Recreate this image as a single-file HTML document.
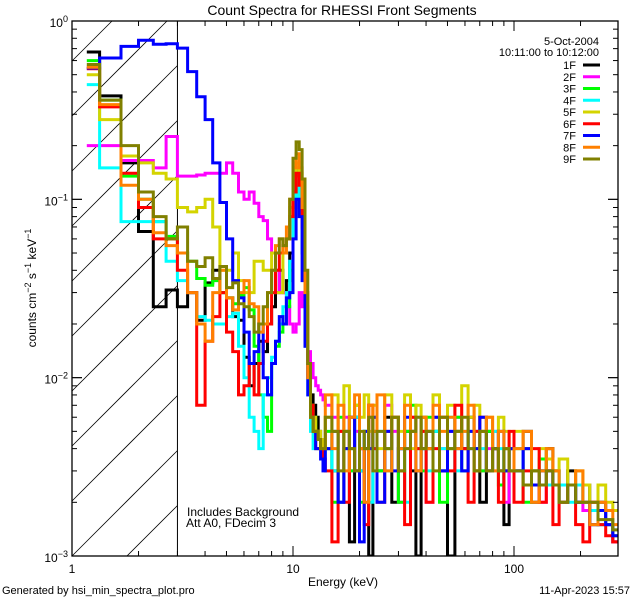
<!DOCTYPE html>
<html><head><meta charset="utf-8"><style>
html,body{margin:0;padding:0;background:#fff;width:640px;height:600px;overflow:hidden;}
svg{display:block;font-family:"Liberation Sans",sans-serif;overflow:hidden;}
</style></head><body>
<svg id="chart" width="640" height="600" viewBox="0 0 640 600" xmlns="http://www.w3.org/2000/svg">
<rect x="0" y="0" width="640" height="600" fill="#fff"/>
<defs><clipPath id="plotclip"><rect x="72" y="21" width="546" height="535"/></clipPath></defs>
<text x="342" y="15" font-size="14" text-anchor="middle">Count Spectra for RHESSI Front Segments</text>
<g id="hatch"></g>
<g id="series" clip-path="url(#plotclip)"></g>
<g id="axes"></g>
<text x="343" y="586" font-size="12" text-anchor="middle">Energy (keV)</text>
<text transform="translate(36,288) rotate(-90)" font-size="12" text-anchor="middle">counts cm<tspan baseline-shift="super" font-size="9">−2</tspan> s<tspan baseline-shift="super" font-size="9">−1</tspan> keV<tspan baseline-shift="super" font-size="9">−1</tspan></text>
<text x="187" y="516" font-size="12">Includes Background</text>
<text x="186" y="527" font-size="12">Att A0, FDecim 3</text>
<text x="2" y="594" font-size="11">Generated by hsi_min_spectra_plot.pro</text>
<text x="630" y="594" font-size="11" text-anchor="end">11-Apr-2023 15:57</text>
<text x="599" y="45" font-size="11" text-anchor="end">5-Oct-2004</text>
<text x="599" y="56" font-size="11" text-anchor="end">10:11:00 to 10:12:00</text>
<g id="legend"></g>
</svg>
<script>
const NS="http://www.w3.org/2000/svg";
const names=["1F","2F","3F","4F","5F","6F","7F","8F","9F"];
const colors=["#000000","#ff00ff","#00ff00","#00ffff","#d4d400","#ff0000","#0000ff","#ff8000","#808000"];
const loEdgeStart=1.0, loStep=1/3, loCount=39;
const hiEdges=[14,15,16,17,18,19,20,21,22,23,24,26,28,30,32,34,36,38,40,43,46,50,54,58,62,66,70,75,80,85,90,95,100,110,120,130,140,150,160,175,190,205,220,240,260,280,296];
const lo1F=[0.67,0.38,0.16,0.066,0.025,0.031,0.025,0.030,0.021,0.034,0.040,0.030,0.028,0.022,0.021,0.013,0.009,0.012,0.016,0.014,0.02,0.025,0.03,0.04,0.03,0.035,0.05,0.09,0.15,0.12,0.05,0.02,0.012,0.008,0.007,0.006,0.005,0.004,0.004];
const lo2F=[0.2,0.2,0.165,0.165,0.15,0.225,0.135,0.135,0.137,0.14,0.14,0.14,0.16,0.14,0.11,0.1,0.11,0.095,0.08,0.076,0.06,0.05,0.04,0.03,0.03,0.025,0.02,0.018,0.02,0.03,0.025,0.02,0.014,0.012,0.01,0.009,0.0085,0.008,0.0075];
const lo3F=[0.60,0.36,0.135,0.10,0.075,0.062,0.05,0.045,0.036,0.033,0.035,0.03,0.028,0.026,0.029,0.032,0.024,0.015,0.008,0.006,0.005,0.012,0.015,0.018,0.02,0.025,0.04,0.1,0.15,0.11,0.06,0.02,0.01,0.007,0.006,0.005,0.0045,0.004,0.004];
const lo4F=[0.44,0.15,0.075,0.075,0.075,0.045,0.035,0.03,0.022,0.021,0.02,0.02,0.022,0.023,0.015,0.01,0.006,0.005,0.004,0.008,0.01,0.013,0.016,0.02,0.025,0.03,0.045,0.08,0.13,0.1,0.05,0.015,0.008,0.005,0.004,0.004,0.004,0.004,0.0035];
const lo5F=[0.5,0.28,0.175,0.16,0.14,0.13,0.09,0.085,0.09,0.10,0.07,0.04,0.04,0.05,0.035,0.03,0.03,0.045,0.045,0.04,0.04,0.05,0.03,0.03,0.05,0.06,0.09,0.12,0.16,0.14,0.08,0.03,0.012,0.007,0.006,0.005,0.005,0.0045,0.004];
const lo6F=[0.54,0.33,0.14,0.09,0.06,0.06,0.04,0.03,0.007,0.016,0.022,0.03,0.018,0.014,0.008,0.009,0.012,0.008,0.012,0.016,0.02,0.03,0.04,0.05,0.055,0.06,0.08,0.11,0.14,0.12,0.07,0.025,0.01,0.007,0.005,0.004,0.004,0.004,0.0035];
const lo7F=[0.545,0.62,0.72,0.78,0.74,0.745,0.705,0.52,0.376,0.28,0.16,0.096,0.06,0.035,0.028,0.018,0.012,0.014,0.02,0.01,0.008,0.012,0.016,0.022,0.02,0.028,0.03,0.06,0.1,0.08,0.035,0.015,0.008,0.006,0.005,0.004,0.004,0.0035,0.003];
const lo8F=[0.55,0.34,0.12,0.10,0.065,0.055,0.05,0.03,0.02,0.016,0.03,0.04,0.028,0.024,0.03,0.035,0.026,0.025,0.018,0.02,0.03,0.04,0.055,0.06,0.05,0.07,0.1,0.15,0.18,0.15,0.09,0.03,0.01,0.006,0.005,0.005,0.0045,0.004,0.004];
const lo9F=[0.57,0.36,0.2,0.11,0.08,0.06,0.07,0.045,0.042,0.047,0.036,0.042,0.032,0.034,0.026,0.025,0.022,0.018,0.02,0.025,0.03,0.04,0.05,0.06,0.055,0.06,0.10,0.17,0.21,0.19,0.13,0.04,0.012,0.006,0.005,0.005,0.0045,0.004,0.004];
const hiScale=0.001;
const hi1F=[4,3,2,5,1.2,6,3,4,1,5,3,6,2,4,5,3,1,6,4,5,3,1,5,4,6,3,2,5,4,3,1.5,4,3,5,2,3,4,3,2.5,3,2,2.5,1.5,2,1.5,1.2];
const hi2F=[7,6,5,6,3,5,4,2,6,4,3,7,5,2,4,6,3,5,2,6,4,5,6,3,4,5,3,4,5,3,2,4,3,4,3,2,3,2.5,2,2.5,2,1.8,2,1.5,1.5,1.2];
const hi3F=[5,2,6,4,3,7,2,5,4,6,3,4,6,2,5,7,4,3,6,5,2,4,6,3,5,4,3,5,4,2.5,4,3,4,2,3,3.5,2.5,3,2,2.5,2,2,1.8,1.5,1.5,1.3];
const hi4F=[4,3,2,5,4,6,3,5,2,4,5,3,6,4,2,5,6,4,3,5,4,6,3,5,4,5,4,3,5,4,3,4,3,4,3,3,2.5,3,2.5,2,2.5,2,1.8,1.5,1.6,1.4];
const hi5F=[6,8,5,9,4,7,6,8,5,7,4,8,6,5,8,4,7,6,5,8,6,7,5,9,6,7,5,6,4,6,5,4,5,4,3,4,3.5,3,3.5,2.5,3,2.5,2,2.5,2,1.8];
const hi6F=[3,1.2,5,2,6,3,4,1.5,7,4,2,5,6,3,1.5,6,4,5,2,4,6,3,7,4,2,5,6,3,4,2,3,5,2,3,4,2,3,1.5,2,2.5,1.5,1.2,2,1.5,1.3,1.2];
const hi7F=[4,5,2,4,6,3,1.2,5,4,6,2,5,3,4,6,5,3,4,5,6,3,5,4,3,5,4,6,3,4,5,3,4,3,4,2.5,3,3,2.5,2,2.5,2,2,1.5,1.8,1.5,1.3];
const hi8F=[8,4,7,3,6,8,4,2,7,5,8,3,6,4,7,5,3,6,4,7,5,6,4,5,7,3,5,6,3,5,4,3,4,5,2,3,4,3,2,2.5,3,2,1.5,2,1.8,1.5];
const hi9F=[6,5,3,5,4,3,5,4,6,3,5,4,6,3,4,5,6,4,5,3,6,4,5,6,4,3,5,3,4,3,4,3,3,2.5,3,2.5,3,2.5,2,2.5,2,2,2,1.6,1.6,1.4];
const loSeries=[lo1F,lo2F,lo3F,lo4F,lo5F,lo6F,lo7F,lo8F,lo9F];
const hiSeries=[hi1F,hi2F,hi3F,hi4F,hi5F,hi6F,hi7F,hi8F,hi9F];
const xTickLabels=["1","10","100"];
const yTickExps=["0","−1","−2","−3"];

const X0=72,X1=618,Y0=21,Y1=556,XDEC=221,YDEC=(Y1-Y0)/3;
function xs(e){return X0+XDEC*Math.log10(e);}
function ys(v){return Y0-YDEC*Math.log10(v);}

// hatch lines, manually clipped to region [X0,xs(3)] x [Y0,Y1]
const hatch=document.getElementById('hatch');
const HX1=xs(3);
for(let k=-12;k<12;k++){
  const b=Y1-k*55; // y at x=X0; y = b-(x-X0)
  let xa=X0, xb=HX1;
  // y within [Y0,Y1]: x-X0 in [b-Y1, b-Y0]
  xa=Math.max(xa, X0+(b-Y1)); xb=Math.min(xb, X0+(b-Y0));
  if(xb<=xa) continue;
  const l=document.createElementNS(NS,'line');
  l.setAttribute('x1',xa.toFixed(1));l.setAttribute('y1',(b-(xa-X0)).toFixed(1));
  l.setAttribute('x2',xb.toFixed(1));l.setAttribute('y2',(b-(xb-X0)).toFixed(1));
  l.setAttribute('stroke','#000');l.setAttribute('stroke-width','0.8');
  
  
  hatch.appendChild(l);
}
const vl=document.createElementNS(NS,'line');
vl.setAttribute('x1',HX1);vl.setAttribute('x2',HX1);vl.setAttribute('y1',Y0);vl.setAttribute('y2',Y1);
vl.setAttribute('stroke','#000');vl.setAttribute('stroke-width','1');


document.getElementById('chart').insertBefore(vl,document.getElementById('series'));

const sg=document.getElementById('series');
for(let s=0;s<9;s++){
  const edges=[],vals=[];
  for(let i=0;i<loCount;i++){edges.push(loEdgeStart+i*loStep);vals.push(loSeries[s][i]);}
  for(let i=0;i<hiSeries[s].length;i++){edges.push(hiEdges[i]);vals.push(hiSeries[s][i]*hiScale);}
  edges.push(hiEdges[hiEdges.length-1]);
  let d='';
  for(let i=0;i<vals.length;i++){
    const xa=xs(i===0?1.167:edges[i]),xb=Math.min(xs(edges[i+1]),X1),y=ys(Math.max(vals[i],0.001));
    d+=(i===0?'M':'L')+xa.toFixed(1)+','+y.toFixed(1)+'L'+xb.toFixed(1)+','+y.toFixed(1);
  }
  const p=document.createElementNS(NS,'path');
  p.setAttribute('d',d);p.setAttribute('fill','none');p.setAttribute('stroke',colors[s]);
  p.setAttribute('stroke-width','3');p.setAttribute('stroke-linejoin','miter');
  
  
  sg.appendChild(p);
}

const ax=document.getElementById('axes');
function ln(x1,y1,x2,y2,w,name){
  const l=document.createElementNS(NS,'line');
  l.setAttribute('x1',x1);l.setAttribute('y1',y1);l.setAttribute('x2',x2);l.setAttribute('y2',y2);
  l.setAttribute('stroke','#000');l.setAttribute('stroke-width',w||1);
  
  
  ax.appendChild(l);
}
const fr=document.createElementNS(NS,'rect');
fr.setAttribute('x',X0);fr.setAttribute('y',Y0);fr.setAttribute('width',X1-X0);fr.setAttribute('height',Y1-Y0);
fr.setAttribute('fill','none');fr.setAttribute('stroke','#000');fr.setAttribute('stroke-width','1.3');


ax.appendChild(fr);
for(let dec=0;dec<3;dec++){
  for(let m=1;m<10;m++){
    const e=Math.pow(10,dec)*m; const x=xs(e); if(x>X1)break;
    const L=m===1?10:5;
    ln(x,Y1,x,Y1-L,1,'x-tick');ln(x,Y0,x,Y0+L,1,'x-tick-top');
  }
}
xTickLabels.forEach((t,i)=>{
  const tx=document.createElementNS(NS,'text');
  tx.setAttribute('x',xs(Math.pow(10,i)));tx.setAttribute('y',Y1+17);
  tx.setAttribute('font-size','12');tx.setAttribute('text-anchor','middle');tx.textContent=t;
  
  
  ax.appendChild(tx);
});
for(let dec=0;dec<3;dec++){
  for(let m=1;m<=10;m++){
    const v=Math.pow(10,-3+dec)*m; const y=ys(v);
    const L=(m===1||m===10)?10:5;
    ln(X0,y,X0+L,y,1,'y-tick');ln(X1,y,X1-L,y,1,'y-tick-right');
  }
}
yTickExps.forEach((t,i)=>{
  const tx=document.createElementNS(NS,'text');
  tx.setAttribute('x',X0-4);tx.setAttribute('y',ys(Math.pow(10,-i))+6);
  tx.setAttribute('font-size','12');tx.setAttribute('text-anchor','end');
  tx.innerHTML='10<tspan baseline-shift="super" font-size="9">'+t+'</tspan>';
  
  
  ax.appendChild(tx);
});

const lg=document.getElementById('legend');
names.forEach((n,i)=>{
  const y=65+i*11.75;
  const g=document.createElementNS(NS,'g');
  
  
  const t=document.createElementNS(NS,'text');
  t.setAttribute('x',576);t.setAttribute('y',y+4);t.setAttribute('font-size','11');t.setAttribute('text-anchor','end');t.textContent=n;
  const l=document.createElementNS(NS,'line');
  l.setAttribute('x1',583);l.setAttribute('x2',600);l.setAttribute('y1',y);l.setAttribute('y2',y);
  l.setAttribute('stroke',colors[i]);l.setAttribute('stroke-width','3');
  g.appendChild(t);g.appendChild(l);lg.appendChild(g);
});
</script>
</body></html>
